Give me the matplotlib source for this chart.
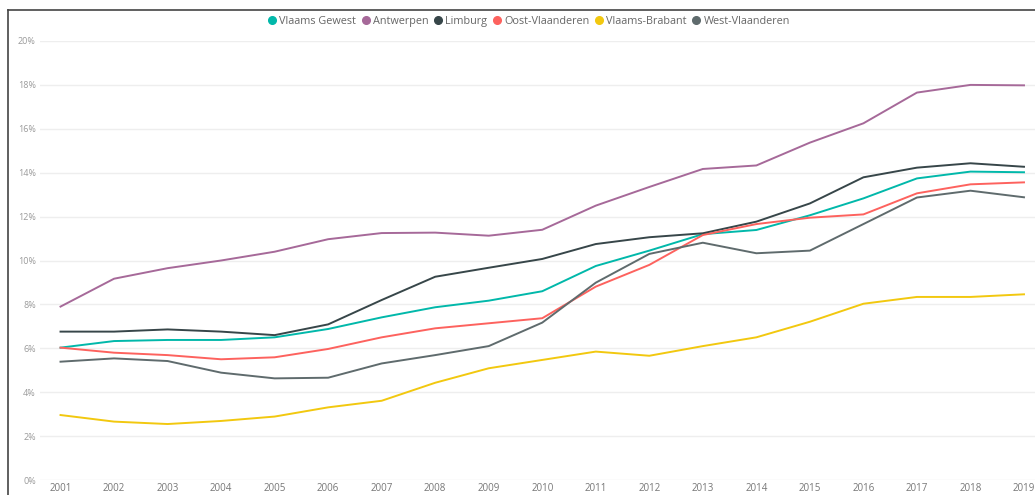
import matplotlib
matplotlib.use("Agg")
import matplotlib.pyplot as plt
from matplotlib.lines import Line2D

years = list(range(2001, 2020))
series_names = ["Vlaams Gewest", "Antwerpen", "Limburg", "Oost-Vlaanderen",
                "Vlaams-Brabant", "West-Vlaanderen"]

vlaams_gewest = [6.03, 6.33, 6.38, 6.38, 6.50, 6.88, 7.41, 7.87, 8.17, 8.60,
                 9.75, 10.45, 11.20, 11.39, 12.06, 12.83, 13.74, 14.05, 14.02]
antwerpen = [7.90, 9.17, 9.65, 10.00, 10.40, 10.97, 11.25, 11.27, 11.13, 11.40,
             12.50, 13.35, 14.17, 14.33, 15.37, 16.25, 17.65, 18.00, 17.98]
limburg = [6.76, 6.76, 6.86, 6.76, 6.60, 7.09, 8.20, 9.26, 9.67, 10.07,
           10.75, 11.06, 11.24, 11.77, 12.60, 13.79, 14.23, 14.43, 14.27]
oost_vlaanderen = [6.03, 5.80, 5.69, 5.50, 5.59, 5.97, 6.50, 6.91, 7.14, 7.37,
                   8.81, 9.80, 11.16, 11.66, 11.95, 12.10, 13.06, 13.47, 13.56]
vlaams_brabant = [2.96, 2.66, 2.55, 2.69, 2.89, 3.31, 3.61, 4.43, 5.09, 5.47,
                  5.85, 5.66, 6.10, 6.50, 7.21, 8.03, 8.34, 8.34, 8.46]
west_vlaanderen = [5.39, 5.54, 5.42, 4.89, 4.63, 4.66, 5.31, 5.69, 6.10, 7.17,
                   8.99, 10.30, 10.81, 10.33, 10.45, 11.66, 12.87, 13.18, 12.88]

y_ticks = [0, 2, 4, 6, 8, 10, 12, 14, 16, 18, 20]
y_tick_labels = [f"{t}%" for t in y_ticks]

colors = ["#01B8AA", "#A66999", "#374649", "#FD625E", "#F2C80F", "#5F6B6D"]
data = [vlaams_gewest, antwerpen, limburg, oost_vlaanderen, vlaams_brabant, west_vlaanderen]

W, H = 1035, 495
fig = plt.figure(figsize=(W / 100, H / 100), dpi=100)
fig.patch.set_facecolor("white")

ax_left, ax_right = 40, 1035
ax_top, ax_bottom = 41, 480
ax = fig.add_axes([ax_left / W, 1 - ax_bottom / H, (ax_right - ax_left) / W, (ax_bottom - ax_top) / H])

for name, vals, c in zip(series_names, data, colors):
    ax.plot(years, vals, color=c, lw=1.4, label=name, solid_joinstyle="round", zorder=3)

step = 53.5
ax.set_xlim(2001 - 20.5 / step, 2019 + 11 / step)
ax.set_ylim(0, 20)
ax.set_yticks(y_ticks)
ax.set_yticklabels(y_tick_labels)
ax.set_xticks(years)
ax.set_xticklabels([str(y) for y in years])
ax.grid(axis="y", color="#EEEEEE", lw=1.0, zorder=0)
ax.grid(axis="x", visible=False)
for s in ax.spines.values():
    s.set_visible(False)
ax.tick_params(axis="both", length=0)
ax.tick_params(axis="y", labelsize=6.5, labelcolor="#9A9A9A", pad=3)
ax.tick_params(axis="x", labelsize=7, labelcolor="#777777", pad=2)
for lbl in ax.get_yticklabels() + ax.get_xticklabels():
    lbl.set_family("Open Sans")

# frame lines
fig.add_artist(Line2D([8 / W, 8 / W], [0, 1 - 10 / H], transform=fig.transFigure, color="#444444", lw=1.2))
fig.add_artist(Line2D([8 / W, 1], [1 - 10 / H, 1 - 10 / H], transform=fig.transFigure, color="#444444", lw=1.2))

handles = [Line2D([], [], marker="o", ls="none", color=c, markersize=5.5) for c in colors]
leg = fig.legend(handles, series_names, loc="center", bbox_to_anchor=(528 / W, 1 - 21.5 / H),
                 ncol=6, frameon=False, handletextpad=0.1, columnspacing=0.35,
                 handlelength=1.1, prop={"family": "Open Sans", "size": 7.8})
for t in leg.get_texts():
    t.set_color("#666666")

fig.savefig("out.png", dpi=100, facecolor="white")
